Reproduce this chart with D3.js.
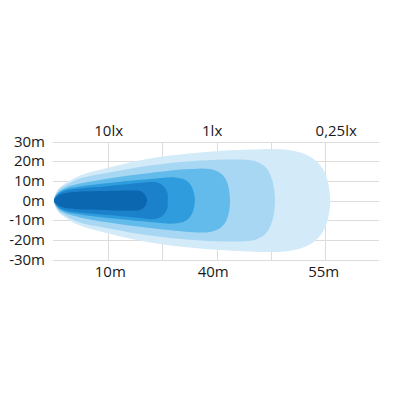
<!DOCTYPE html>
<head>
    <meta charset="utf-8" />
    <title>Beam pattern</title>
</head>
<style>
    body {
        margin: 0;
        background-color: #ffffff;
    }

    .grid line {
        stroke: #dcdcdc;
        stroke-width: 1px;
        shape-rendering: crispEdges;
    }

    .label {
        font-family: "Open Sans", sans-serif;
        font-size: 15px;
        fill: #1a1a1a;
    }
</style>
<body>
    <svg id="chart" width="395" height="395"></svg>
    <script src="https://d3js.org/d3.v7.min.js"></script>
    <script>
        // distance ticks (m) for the vertical grid, lateral ticks (m) for the horizontal grid
        var distTicks = [10, 20, 30, 40, 50];
        var sideTicks = [30, 20, 10, 0, -10, -20, -30];

        // lux labels on top and distance labels underneath
        var luxLabels = ["10lx", "1lx", "0,25lx"];
        var luxAt = [10.1, 29.2, 52.1];
        var distLabels = ["10m", "40m", "55m"];
        var distAt = [10.4, 29.4, 49.8];

        // beam contours, outermost first: [distance, half width]
        var beam1 = [[0, 0], [0.74, 5.6], [2.03, 8.6], [4.8, 12.7], [10.15, 16.8], [17.7, 21.4], [26.95, 24.4], [36.2, 25.9], [42.6, 25.9], [46.3, 23.6], [48.7, 19.3], [50.2, 12.7], [51.0, 0]];
        var beam2 = [[0, 0], [0.74, 5.1], [2.03, 7.6], [4.8, 11.2], [10.15, 14.2], [17.7, 17.8], [26.95, 20.3], [34.3, 20.8], [37.3, 19.8], [39.1, 16.8], [40.2, 11.2], [40.8, 0]];
        var beam3 = [[0, 0], [0.74, 4.1], [2.03, 6.4], [4.8, 8.6], [10.15, 11.2], [17.7, 14.0], [25.1, 16.0], [28.8, 16.0], [30.8, 13.7], [31.9, 9.7], [32.5, 0]];
        var beam4 = [[0, 0], [0.74, 3.6], [2.03, 5.6], [4.8, 7.1], [10.15, 8.9], [17.7, 10.9], [22.3, 11.7], [24.4, 10.2], [25.5, 6.6], [26.0, 0]];
        var beam5 = [[0, 0], [0.74, 3.1], [2.03, 4.8], [4.8, 6.1], [10.15, 7.4], [15.9, 8.9], [18.6, 9.4], [20.1, 7.6], [20.9, 4.1], [21.0, 0]];
        var beam6 = [[0, 0], [0.55, 2.0], [1.48, 3.3], [3.9, 4.3], [8.5, 4.8], [14.0, 5.1], [15.9, 4.8], [16.6, 3.6], [17.0, 2.0], [17.2, 0]];

        var beams = [beam1, beam2, beam3, beam4, beam5, beam6];
        var beamColors = ["#d3eaf9", "#a8d7f3", "#62bbea", "#2e9cdd", "#1a81ca", "#0b67b0"];

        var svg = d3.select("#chart");

        var x = d3.scaleLinear().domain([0, 60]).range([54, 379]);
        var y = d3.scaleLinear().domain([-30, 30]).range([259.5, 141.5]);

        // grid
        var grid = svg.append("g").attr("class", "grid");

        grid.selectAll(".h")
            .data(sideTicks)
            .enter().append("line")
            .attr("x1", x(0) - 1)
            .attr("x2", x(60))
            .attr("y1", function(d) { return Math.round(y(d)) + 0.5; })
            .attr("y2", function(d) { return Math.round(y(d)) + 0.5; });

        grid.selectAll(".v")
            .data(distTicks)
            .enter().append("line")
            .attr("x1", function(d) { return Math.round(x(d)) + 0.5; })
            .attr("x2", function(d) { return Math.round(x(d)) + 0.5; })
            .attr("y1", y(30))
            .attr("y2", y(-30));

        // beam shapes
        var line = d3.line()
            .x(function(d) { return x(d[0]); })
            .y(function(d) { return y(d[1]); })
            .curve(d3.curveCatmullRomClosed.alpha(0.5));

        function outline(pts) {
            var top = pts.slice();
            var bottom = pts.slice(1, pts.length - 1).reverse().map(function(p) {
                return [p[0], -p[1]];
            });
            return top.concat(bottom);
        }

        svg.append("g")
            .selectAll("path")
            .data(beams)
            .enter().append("path")
            .attr("d", function(d) { return line(outline(d)); })
            .attr("fill", function(d, i) { return beamColors[i]; });

        // y labels
        svg.append("g")
            .selectAll("text")
            .data(sideTicks)
            .enter().append("text")
            .attr("class", "label")
            .attr("x", 45)
            .attr("y", function(d) { return y(d); })
            .attr("dy", "0.35em")
            .attr("text-anchor", "end")
            .text(function(d) { return d + "m"; });

        // lux labels
        svg.append("g")
            .selectAll("text")
            .data(luxLabels)
            .enter().append("text")
            .attr("class", "label")
            .attr("x", function(d, i) { return x(luxAt[i]); })
            .attr("y", 136)
            .attr("text-anchor", "middle")
            .text(function(d) { return d; });

        // distance labels
        svg.append("g")
            .selectAll("text")
            .data(distLabels)
            .enter().append("text")
            .attr("class", "label")
            .attr("x", function(d, i) { return x(distAt[i]); })
            .attr("y", 277)
            .attr("text-anchor", "middle")
            .text(function(d) { return d; });
    </script>
</body>
